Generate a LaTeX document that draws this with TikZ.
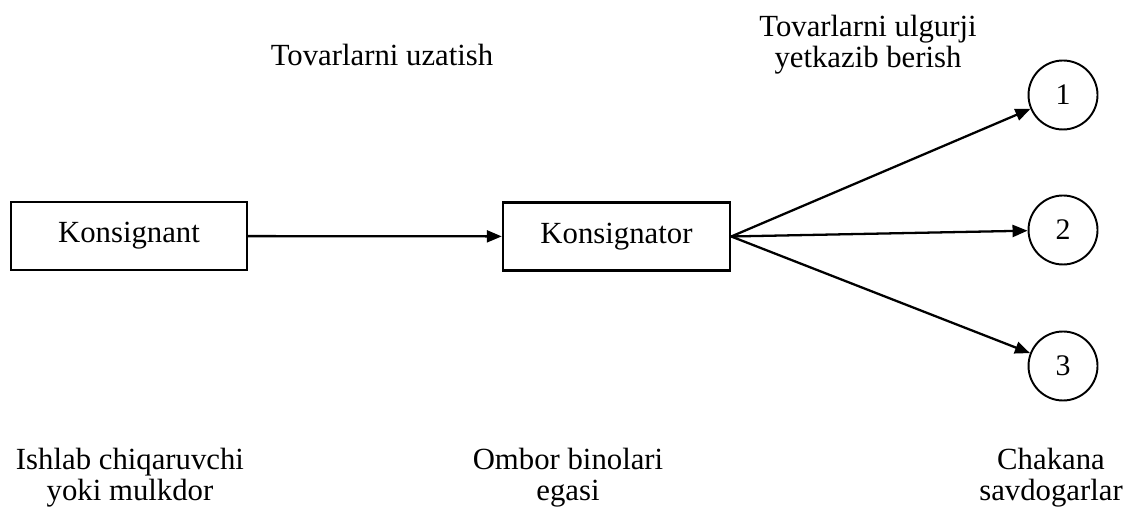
\documentclass[tikz,border=0pt]{standalone}
\usepackage{fontspec}
\setmainfont{Liberation Serif}
\usetikzlibrary{arrows.meta}
\begin{document}
\begin{tikzpicture}[
        party/.style={rectangle, draw, line width=1.4pt, minimum width=4.6cm, minimum height=1.36cm, font=\fontsize{17.5}{15}\selectfont},
        shop/.style={circle, draw, line width=1.1pt, minimum size=1.38cm, inner sep=0pt, font=\fontsize{17}{15}\selectfont},
        note/.style={align=center, font=\fontsize{17.5}{17.5}\selectfont},
        arrow/.style={-{Triangle[length=3mm, width=2.4mm]}, line width=1.3pt}
    ]
    \useasboundingbox (0,0) rectangle (22.5,10.2);
    \node[party, minimum width=4.72cm] (knt) at (2.58,5.48) {Konsignant};
    \node[party, minimum width=4.54cm] (ktr) at (12.33,5.47) {Konsignator};
    \node[shop] (r1) at (21.26,8.30) {1};
    \node[shop] (r2) at (21.26,5.60) {2};
    \node[shop] (r3) at (21.26,2.88) {3};
    \node[note] (move) at (7.64,9.1) {Tovarlarni uzatish};
    \node[note] (bulk) at (17.36,9.3) {Tovarlarni ulgurji\\yetkazib berish};
    \node[note] (maker) at (2.6,0.64) {Ishlab chiqaruvchi\\yoki mulkdor};
    \node[note] (owner) at (11.36,0.64) {Ombor binolari\\egasi};
    \node[note] (retail) at (21.02,0.64) {Chakana\\savdogarlar};
    \draw[arrow] (knt) -- (ktr);
    \draw[arrow] (ktr.east) -- (r1);
    \draw[arrow] (ktr.east) -- (r2);
    \draw[arrow] (ktr.east) -- (r3);
    \end{tikzpicture}
\end{document}
